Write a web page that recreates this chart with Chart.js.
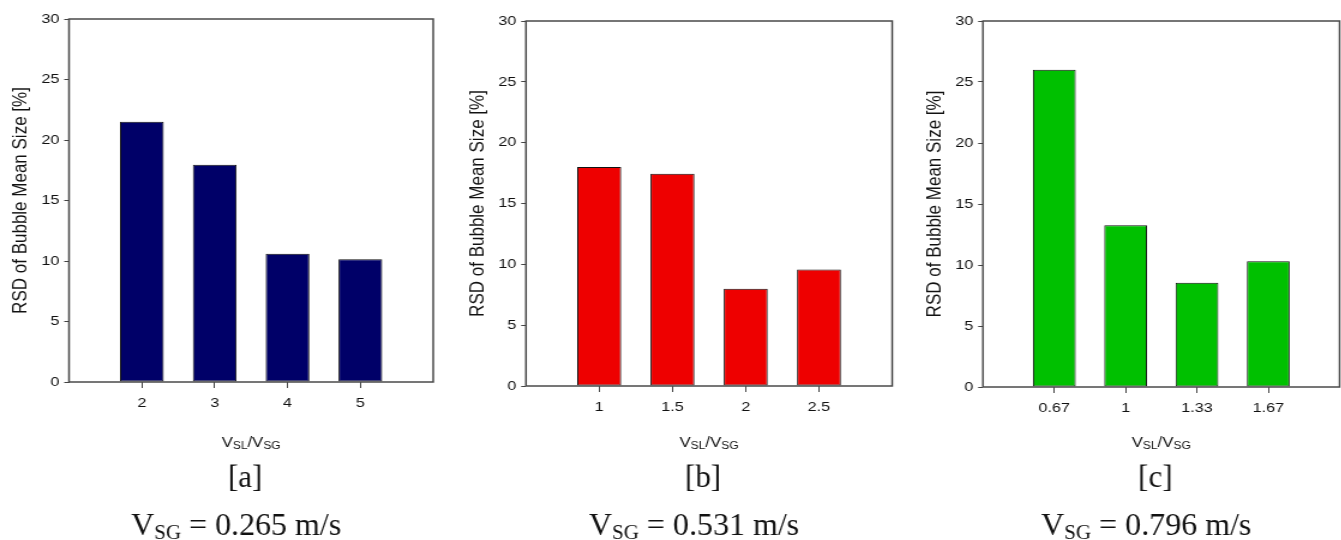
<!DOCTYPE html>
<html>
<head>
<meta charset="utf-8">
<script src="https://cdn.jsdelivr.net/npm/chart.js@4.4.1/dist/chart.umd.min.js"></script>
<style>
  html, body { margin: 0; padding: 0; background: #ffffff; }
  #wrap { position: relative; width: 1341px; height: 540px; overflow: hidden; }
  #wrap canvas { position: absolute; top: 0; transform-origin: 0 0; }
</style>
</head>
<body>
<div id="wrap">
  <canvas id="panelA" width="375" height="540"></canvas>
  <canvas id="panelB" width="371" height="540"></canvas>
  <canvas id="panelC" width="372" height="540"></canvas>
</div>
<script>
// Y axis (RSD, %) ticks
const yMin = 0;
const yMax = 30;
const yStep = 5;
const yTitle = 'RSD of Bubble Mean Size [%]';

// [a] V_SG = 0.265 m/s
const ratiosA = ['2', '3', '4', '5'];
const rsdA = [21.5, 17.95, 10.6, 10.15];

// [b] V_SG = 0.531 m/s
const ratiosB = ['1', '1.5', '2', '2.5'];
const rsdB = [18.0, 17.45, 8.0, 9.57];

// [c] V_SG = 0.796 m/s
const ratiosC = ['0.67', '1', '1.33', '1.67'];
const rsdC = [26.0, 13.25, 8.55, 10.3];

const panelTags = ['[a]', '[b]', '[c]'];
const gasVelocities = ['0.265', '0.531', '0.796'];

// Each plot is drawn narrow and widened on screen by this factor
const STRETCH = 1.2;
const SANS = '"Liberation Sans", Arial, sans-serif';
const SERIF = '"Liberation Serif", "Times New Roman", serif';
const INK = '#111111';

// Draws a row of text runs (with optional baseline shift) centred on cx
function drawRuns(ctx, runs, cx, baseline) {
  let total = 0;
  runs.forEach(r => { ctx.font = r.font; r.w = ctx.measureText(r.text).width; total += r.w; });
  let x = cx - total / 2;
  ctx.textAlign = 'left';
  ctx.textBaseline = 'alphabetic';
  runs.forEach(r => { ctx.font = r.font; ctx.fillText(r.text, x, baseline + (r.dy || 0)); x += r.w; });
}

const panelDecor = {
  id: 'panelDecor',
  afterDatasetsDraw(chart) {
    const { ctx, chartArea: a } = chart;
    ctx.save();
    // plot frame
    ctx.strokeStyle = '#4a4a4a';
    ctx.lineWidth = 1.5;
    ctx.strokeRect(a.left, a.top, a.right - a.left, a.bottom - a.top);
    ctx.restore();
  },
  afterDraw(chart, args, opts) {
    const { ctx, chartArea: a } = chart;
    const cx = (a.left + a.right) / 2;
    const cy = (a.top + a.bottom) / 2;
    ctx.save();
    ctx.fillStyle = INK;

    // y axis title
    ctx.save();
    ctx.translate(a.left - 40, cy);
    ctx.rotate(-Math.PI / 2);
    ctx.font = '17px ' + SANS;
    ctx.textAlign = 'center';
    ctx.textBaseline = 'middle';
    ctx.fillText(yTitle, 0, 0);
    ctx.restore();

    // x axis title: V_SL / V_SG
    drawRuns(ctx, [
      { text: 'V', font: '14px ' + SANS },
      { text: 'SL', font: '10px ' + SANS, dy: 2 },
      { text: '/V', font: '14px ' + SANS },
      { text: 'SG', font: '10px ' + SANS, dy: 2 }
    ], cx, 447);

    // captions below the plot, drawn at natural width
    ctx.save();
    ctx.translate(cx, 0);
    ctx.scale(1 / STRETCH, 1);
    drawRuns(ctx, [{ text: opts.tag, font: '31px ' + SERIF }], -6, 487);
    drawRuns(ctx, [
      { text: 'V', font: '32px ' + SERIF },
      { text: 'SG', font: '21px ' + SERIF, dy: 4 },
      { text: ' = ' + opts.vsg + ' m/s', font: '32px ' + SERIF }
    ], -15, 535);
    ctx.restore();

    ctx.restore();
  }
};

function buildPanel(canvasId, screenLeft, labels, values, color, tag, vsg, box) {
  const canvas = document.getElementById(canvasId);
  canvas.style.left = screenLeft + 'px';
  canvas.style.width = canvas.width + 'px';
  canvas.style.height = canvas.height + 'px';
  canvas.style.transform = 'scaleX(' + STRETCH + ')';
  const tickFont = { family: SANS, size: 13.5 };
  return new Chart(canvas, {
    type: 'bar',
    data: {
      datasets: [{
        data: values.map((v, i) => ({ x: i + 1, y: v })),
        backgroundColor: color,
        borderColor: INK,
        borderWidth: 1,
        borderSkipped: false,
        barPercentage: 0.6,
        categoryPercentage: 1
      }]
    },
    options: {
      responsive: false,
      animation: false,
      devicePixelRatio: 1,
      layout: { padding: { top: box.top, right: box.right, left: 0, bottom: 0 } },
      plugins: {
        legend: { display: false },
        tooltip: { enabled: false },
        panelDecor: { tag: tag, vsg: vsg }
      },
      scales: {
        x: {
          type: 'linear',
          min: 0,
          max: labels.length + 1,
          offset: false,
          afterBuildTicks: s => { s.ticks = labels.map((_, i) => ({ value: i + 1 })); },
          afterFit: s => { s.height = 540 - box.bottom; },
          ticks: {
            callback: v => labels[v - 1],
            font: tickFont,
            color: INK,
            padding: 7,
            maxRotation: 0,
            autoSkip: false
          },
          grid: { display: true, drawOnChartArea: false, drawTicks: true, tickLength: 6, tickColor: '#444', offset: false },
          border: { display: false }
        },
        y: {
          min: yMin,
          max: yMax,
          afterFit: s => { s.width = box.left; },
          ticks: { stepSize: yStep, font: tickFont, color: INK, padding: 4 },
          grid: { display: true, drawOnChartArea: false, drawTicks: true, tickLength: 4, tickColor: '#444' },
          border: { display: false }
        }
      }
    },
    plugins: [panelDecor]
  });
}

buildPanel('panelA', 0, ratiosA, rsdA, '#000068', panelTags[0], gasVelocities[0],
  { left: 57.5, right: 14, top: 19, bottom: 382 });
buildPanel('panelB', 450, ratiosB, rsdB, '#EE0000', panelTags[1], gasVelocities[1],
  { left: 63.3, right: 2.5, top: 21, bottom: 386 });
buildPanel('panelC', 895, ratiosC, rsdC, '#00C000', panelTags[2], gasVelocities[2],
  { left: 73.3, right: 1.5, top: 21, bottom: 387 });
</script>
</body>
</html>
